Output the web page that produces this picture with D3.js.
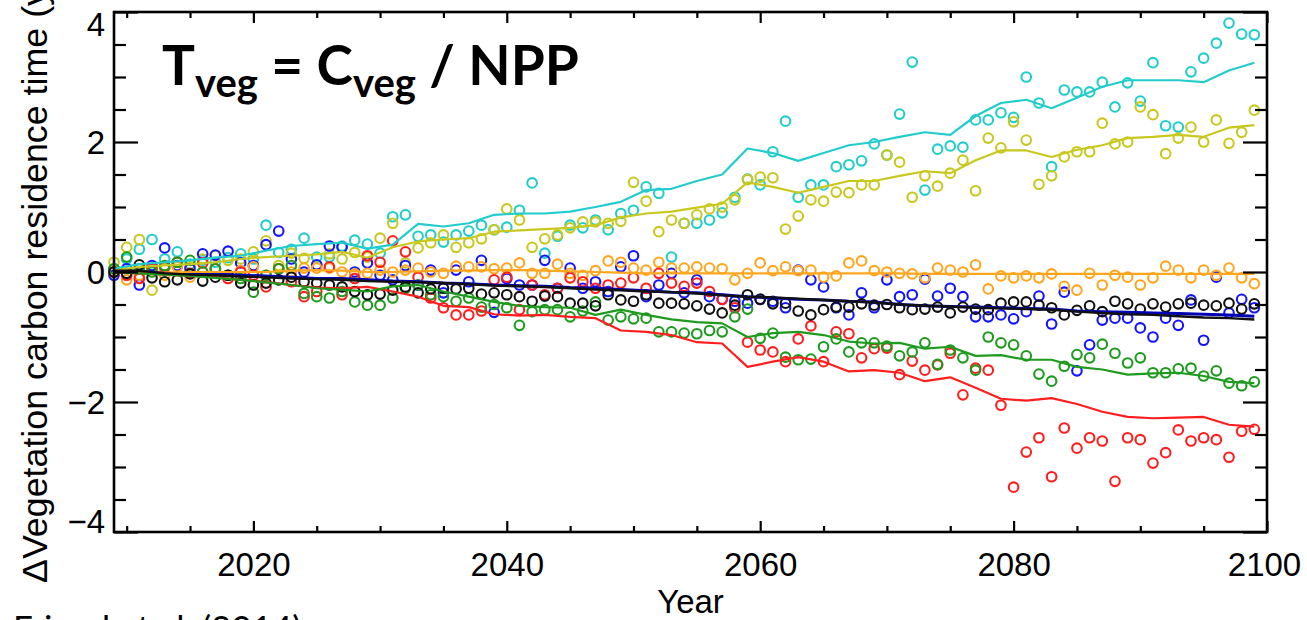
<!DOCTYPE html>
<html lang="en">
  <head>
    <meta charset="utf-8">
    <title>Vegetation carbon residence time</title>
    <script src="https://d3js.org/d3.v7.min.js"></script>
    <style>
      body { margin: 0; background: #fff; }
      .tick text { font-family: "Liberation Sans", Arial, sans-serif; font-size: 33px; fill: #000; }
    </style>
  </head>
  <body>
    <div id="chart"></div>
    <script>

// years of the annual circles and of the smoothed lines
var years = d3.range(2009, 2100);
var lineYears = d3.range(2009, 2100, 2);

// annual values (circles), 2009..2099
var cyanPts = [0.05,0.2,0.35,0.5,0.2,0.31,0.12,0.18,0.15,0.22,
  0.28,0.2,0.72,0.3,0.35,0.52,0.23,0.23,0.4,0.49,
  0.43,0.29,0.85,0.88,0.55,0.57,0.46,0.57,0.63,0.72,
  0.65,0.69,0.95,1.37,0.29,0.55,0.72,0.68,0.8,0.65,
  0.9,0.95,1.31,1.21,0.23,0.75,0.75,0.8,0.91,1.15,
  1.43,1.34,1.85,2.32,1.15,1.34,1.34,1.62,1.65,1.71,
  1.97,1.8,2.43,3.23,1.26,1.89,1.94,1.92,2.34,2.34,
  2.45,2.38,3.0,2.6,1.62,2.8,2.77,2.77,2.92,2.54,
  2.91,2.63,3.22,2.25,2.23,3.08,3.29,3.52,3.83,3.66,
  3.65];
var ygPts = [0.15,0.38,0.5,-0.28,0.05,0.15,0.08,0.2,0.25,0.18,
  0.2,0.31,0.48,0.1,0.29,0.21,0.1,0.28,0.2,0.3,
  0.23,0.52,0.75,0.14,0.37,0.45,0.57,0.38,0.45,0.51,
  0.65,0.97,0.8,0.38,0.51,0.57,0.68,0.77,0.77,0.75,
  0.78,1.38,1.09,0.62,0.8,0.75,0.88,0.97,1.0,1.11,
  1.42,1.46,1.45,0.66,0.86,1.11,1.09,1.23,1.22,1.34,
  1.34,1.8,1.69,1.15,1.48,1.32,1.52,1.72,1.25,2.06,
  1.91,2.31,2.03,1.35,1.48,1.77,1.85,1.85,2.29,1.97,
  2.0,2.54,2.42,1.82,2.06,2.23,2.0,2.34,1.98,2.15,
  2.49];
var orangePts = [0.0,-0.12,-0.05,0.05,-0.05,0.08,-0.08,0.0,0.05,-0.05,
  0.02,0.08,-0.05,0.05,0.0,0.06,0.06,0.06,0.0,-0.03,
  -0.02,0.03,0.0,0.03,0.06,0.0,-0.02,0.09,0.08,0.08,
  0.05,0.06,0.14,-0.02,-0.02,0.12,-0.02,-0.05,0.02,0.17,
  0.15,0.06,0.03,0.15,0.06,0.06,0.08,0.06,0.05,-0.12,
  -0.02,0.14,0.02,0.08,0.02,0.03,-0.08,-0.06,0.14,0.17,
  0.02,0.0,-0.02,-0.03,-0.09,0.06,0.03,0.0,0.11,-0.26,
  -0.06,-0.09,-0.06,-0.09,-0.03,-0.22,-0.28,-0.02,-0.2,-0.05,
  -0.08,-0.2,-0.09,0.09,0.03,-0.09,0.03,-0.05,0.06,-0.09,
  -0.18];
var bluePts = [-0.05,0.05,-0.2,0.1,0.37,0.1,0.05,0.28,0.26,0.32,
  0.14,0.1,0.42,0.63,0.2,0.0,0.11,0.4,0.38,0.0,
  0.14,-0.05,-0.12,0.1,-0.2,0.03,-0.32,0.03,-0.15,0.18,
  -0.62,-0.1,-0.2,-0.2,0.18,-0.25,0.06,-0.25,-0.15,-0.3,
  0.08,0.25,-0.38,-0.2,-0.02,-0.32,-0.12,-0.38,-0.42,-0.45,
  -0.48,-0.42,-0.45,-0.55,0.03,-0.12,-0.23,-0.55,-0.66,-0.32,
  -0.55,-0.12,-0.38,-0.35,-0.11,-0.37,-0.25,-0.38,-0.69,-0.69,
  -0.66,-0.72,-0.61,-0.37,-0.8,-0.31,-1.52,-1.12,-0.74,-0.71,
  -0.71,-0.86,-1.0,-0.71,-0.82,-0.43,-1.05,-0.08,-0.63,-0.42,
  -0.55];
var blackPts = [0.0,-0.02,0.11,-0.09,-0.15,-0.12,-0.03,-0.14,-0.08,-0.05,
  -0.17,-0.2,-0.17,-0.12,-0.08,-0.15,-0.17,-0.2,-0.23,-0.3,
  -0.35,-0.34,-0.28,-0.23,-0.32,-0.26,-0.25,-0.26,-0.25,-0.34,
  -0.32,-0.35,-0.38,-0.45,-0.37,-0.38,-0.48,-0.48,-0.52,-0.35,
  -0.43,-0.45,-0.35,-0.48,-0.48,-0.49,-0.52,-0.57,-0.63,-0.51,
  -0.35,-0.42,-0.49,-0.48,-0.6,-0.66,-0.58,-0.54,-0.54,-0.49,
  -0.51,-0.5,-0.55,-0.58,-0.57,-0.54,-0.63,-0.54,-0.57,-0.58,
  -0.48,-0.46,-0.46,-0.51,-0.55,-0.66,-0.59,-0.52,-0.61,-0.45,
  -0.49,-0.57,-0.49,-0.54,-0.49,-0.48,-0.51,-0.52,-0.48,-0.57,
  -0.49];
var greenPts = [0.05,0.23,0.05,0.0,0.1,0.15,0.18,0.0,0.05,-0.05,
  -0.1,-0.31,-0.05,0.05,0.1,-0.33,-0.38,-0.4,-0.3,-0.46,
  -0.51,-0.51,-0.4,-0.25,-0.2,-0.35,-0.38,-0.45,-0.4,-0.54,
  -0.5,-0.55,-0.82,-0.61,-0.58,-0.58,-0.69,-0.6,-0.46,-0.74,
  -0.69,-0.72,-0.71,-0.92,-0.92,-0.94,-0.95,-0.9,-0.92,-0.69,
  -0.57,-1.02,-0.94,-1.31,-1.35,-1.34,-1.15,-1.03,-1.23,-1.09,
  -1.09,-1.14,-1.29,-1.23,-1.09,-1.42,-1.2,-1.32,-1.51,-1.0,
  -1.09,-1.12,-1.29,-1.57,-1.68,-1.45,-1.27,-1.32,-1.11,-1.25,
  -1.4,-1.32,-1.55,-1.55,-1.49,-1.48,-1.6,-1.52,-1.71,-1.75,
  -1.69];
var redPts = [0.0,-0.05,-0.1,0.05,0.08,0.15,-0.02,0.14,0.05,-0.1,
  0.0,-0.05,-0.23,0.05,-0.15,-0.38,-0.3,0.08,-0.35,-0.1,
  0.25,0.15,0.48,0.31,-0.08,-0.4,-0.55,-0.66,-0.66,-0.6,
  -0.12,-0.08,-0.58,-0.2,-0.35,-0.25,-0.09,-0.15,-0.25,-0.2,
  -0.17,-0.09,-0.25,-0.02,-0.17,-0.22,-0.17,-0.3,-0.42,-0.55,
  -1.08,-1.2,-1.23,-1.38,-1.03,-0.83,-1.38,-0.92,-0.95,-1.32,
  -1.18,-1.17,-1.58,-1.37,-1.51,-1.43,-1.25,-1.89,-1.48,-1.51,
  -2.05,-3.31,-2.77,-2.55,-3.15,-2.4,-2.71,-2.55,-2.6,-3.22,
  -2.55,-2.58,-2.94,-2.78,-2.43,-2.6,-2.55,-2.58,-2.85,-2.45,
  -2.42];

// smoothed lines, every second year 2009..2099
var cyanLine = [0.05,0.12,0.15,0.18,0.22,0.25,0.33,0.4,0.43,0.45,
  0.36,0.42,0.74,0.7,0.75,0.88,0.9,0.9,0.93,1.0,
  1.08,1.26,1.28,1.4,1.5,1.9,1.83,1.71,1.83,1.95,
  2.0,2.08,2.15,2.11,2.4,2.6,2.65,2.52,2.68,2.85,
  2.95,2.95,2.95,2.92,3.1,3.22];
var ygLine = [0.02,0.08,0.1,0.12,0.15,0.2,0.23,0.25,0.27,0.31,
  0.22,0.38,0.47,0.5,0.52,0.62,0.64,0.66,0.68,0.72,
  0.84,0.9,0.93,0.99,1.05,1.38,1.31,1.22,1.31,1.4,
  1.4,1.48,1.55,1.52,1.72,1.87,1.87,1.77,1.88,1.95,
  2.06,2.08,2.11,2.08,2.22,2.26];
var orangeLine = [0.0,-0.02,-0.01,0.0,0.0,0.0,0.0,0.02,0.03,0.02,
  0.0,0.0,0.01,0.02,0.02,0.03,0.03,0.02,0.01,0.0,
  -0.01,-0.02,-0.02,-0.02,-0.02,-0.02,-0.02,-0.02,-0.02,-0.02,
  -0.02,-0.02,-0.03,-0.03,-0.03,-0.03,-0.03,-0.03,-0.03,-0.03,
  -0.03,-0.03,-0.03,-0.03,-0.03,-0.03];
var blueLine = [0.0,0.0,-0.02,-0.03,-0.03,-0.05,-0.06,-0.08,-0.1,-0.1,
  -0.12,-0.14,-0.15,-0.17,-0.18,-0.2,-0.21,-0.22,-0.24,-0.25,
  -0.27,-0.29,-0.31,-0.32,-0.35,-0.38,-0.4,-0.42,-0.43,-0.45,
  -0.46,-0.5,-0.52,-0.53,-0.54,-0.55,-0.56,-0.57,-0.6,-0.61,
  -0.62,-0.63,-0.64,-0.65,-0.66,-0.68];
var blackLine = [0.02,0.02,-0.02,-0.04,-0.05,-0.07,-0.08,-0.1,-0.11,-0.12,
  -0.14,-0.15,-0.16,-0.17,-0.19,-0.21,-0.22,-0.23,-0.25,-0.27,
  -0.28,-0.3,-0.31,-0.33,-0.36,-0.38,-0.39,-0.41,-0.43,-0.45,
  -0.47,-0.5,-0.52,-0.53,-0.55,-0.56,-0.57,-0.58,-0.61,-0.63,
  -0.65,-0.66,-0.68,-0.7,-0.71,-0.73];
var greenLine = [0.0,-0.02,-0.04,-0.06,-0.09,-0.12,-0.16,-0.2,-0.25,-0.27,
  -0.3,-0.22,-0.2,-0.3,-0.38,-0.46,-0.52,-0.54,-0.55,-0.66,
  -0.58,-0.66,-0.73,-0.77,-0.79,-1.0,-0.94,-0.92,-0.97,-1.07,
  -1.1,-1.09,-1.18,-1.15,-1.29,-1.28,-1.35,-1.35,-1.46,-1.5,
  -1.58,-1.56,-1.55,-1.6,-1.69,-1.71];
var redLine = [0.0,-0.02,-0.04,-0.06,-0.08,-0.12,-0.15,-0.2,-0.24,-0.25,
  -0.23,-0.3,-0.38,-0.52,-0.54,-0.65,-0.67,-0.66,-0.69,-0.71,
  -0.9,-0.92,-0.97,-1.08,-1.1,-1.46,-1.38,-1.31,-1.38,-1.53,
  -1.51,-1.55,-1.68,-1.62,-1.78,-1.95,-1.98,-1.94,-2.03,-2.15,
  -2.23,-2.25,-2.24,-2.23,-2.35,-2.38];

// tick labels
var xMajor = [2020, 2040, 2060, 2080, 2100];
var xMinor = [2010, 2015, 2025, 2030, 2035, 2045, 2050, 2055, 2065, 2070, 2075, 2085, 2090, 2095];
var yMajor = [-4, -2, 0, 2, 4];
var yMinor = [-3.5, -3, -2.5, -1.5, -1, -0.5, 0.5, 1, 1.5, 2.5, 3, 3.5];

var series = [
  {pts: cyanPts,   line: cyanLine,   ptColor: "#22cccc", lineColor: "#22cccc", lw: 2.2},
  {pts: ygPts,     line: ygLine,     ptColor: "#c8c81e", lineColor: "#c8c81e", lw: 2.2},
  {pts: bluePts,   line: blueLine,   ptColor: "#1414ff", lineColor: "#0000b4", lw: 3},
  {pts: orangePts, line: orangeLine, ptColor: "#ffa51e", lineColor: "#ffa51e", lw: 2.2},
  {pts: redPts,    line: redLine,    ptColor: "#ff1e1e", lineColor: "#ff1e1e", lw: 2.2},
  {pts: greenPts,  line: greenLine,  ptColor: "#1e9b1e", lineColor: "#1e9b1e", lw: 2.2},
  {pts: blackPts,  line: blackLine,  ptColor: "#111111", lineColor: "#111111", lw: 2.4}
];

var w = 1307;
var h = 620;
var plot = {x0: 114, x1: 1267, y0: 12, y1: 532};

var svg = d3.select("#chart")
  .append("svg")
    .attr("width", w)
    .attr("height", h);

var xScale = d3.scaleLinear().domain([2009, 2100]).range([plot.x0, plot.x1]);
var yScale = d3.scaleLinear().domain([-4, 4]).range([plot.y1, plot.y0]);

// circles
series.forEach(function(s) {
  svg.append("g")
    .selectAll("circle")
    .data(s.pts)
    .enter()
    .append("circle")
      .attr("cx", (d, i) => xScale(years[i]))
      .attr("cy", d => yScale(d))
      .attr("r", 4.8)
      .attr("fill", "none")
      .attr("stroke", s.ptColor)
      .attr("stroke-width", 2.1);
});

// smoothed lines
var line = d3.line()
  .x((d, i) => xScale(lineYears[i]))
  .y(d => yScale(d));

series.forEach(function(s) {
  svg.append("path")
    .datum(s.line)
    .attr("d", line)
    .attr("fill", "none")
    .attr("stroke", s.lineColor)
    .attr("stroke-width", s.lw)
    .attr("stroke-linejoin", "round");
});

// axes, ticks point inward
function drawAxis(axis, tx, ty) {
  var g = svg.append("g")
    .attr("transform", `translate(${tx}, ${ty})`)
    .call(axis);
  g.select(".domain").remove();
  g.selectAll(".tick line").attr("stroke", "#000").attr("stroke-width", 2.2);
  return g;
}

var xAxis = drawAxis(d3.axisBottom(xScale).tickValues(xMajor).tickSize(-11).tickSizeOuter(0)
  .tickPadding(21).tickFormat(d3.format("d")), 0, plot.y1);
drawAxis(d3.axisBottom(xScale).tickValues(xMinor).tickSize(-6).tickFormat(""), 0, plot.y1);
drawAxis(d3.axisTop(xScale).tickValues(xMajor).tickSize(-11).tickFormat(""), 0, plot.y0);
drawAxis(d3.axisTop(xScale).tickValues(xMinor).tickSize(-6).tickFormat(""), 0, plot.y0);

var yAxis = drawAxis(d3.axisLeft(yScale).tickValues(yMajor).tickSize(-24).tickSizeOuter(0)
  .tickPadding(9).tickFormat(d3.format("d")), plot.x0, 0);
drawAxis(d3.axisLeft(yScale).tickValues(yMinor).tickSize(-12).tickFormat(""), plot.x0, 0);
drawAxis(d3.axisRight(yScale).tickValues(yMajor).tickSize(-24).tickFormat(""), plot.x1, 0);
drawAxis(d3.axisRight(yScale).tickValues(yMinor).tickSize(-12).tickFormat(""), plot.x1, 0);

// the end labels sit inside the frame
yAxis.selectAll(".tick text")
  .attr("dy", d => d == 4 ? "0.72em" : (d == -4 ? "0em" : "0.35em"));
xAxis.selectAll(".tick text").attr("dx", d => d == 2100 ? "-3px" : 0);

svg.append("rect")
  .attr("x", plot.x0).attr("y", plot.y0)
  .attr("width", plot.x1 - plot.x0).attr("height", plot.y1 - plot.y0)
  .attr("fill", "none")
  .attr("stroke", "#000")
  .attr("stroke-width", 2.6);

// axis titles
svg.append("text")
  .attr("x", (plot.x0 + plot.x1) / 2)
  .attr("y", 613)
  .attr("text-anchor", "middle")
  .style("font-family", "'Liberation Sans', Arial, sans-serif")
  .style("font-size", "33px")
  .text("Year");

svg.append("text")
  .attr("transform", "translate(47, 583) rotate(-90)")
  .attr("text-anchor", "start")
  .style("font-family", "'Liberation Sans', Arial, sans-serif")
  .style("font-size", "35.8px")
  .text("\u0394Vegetation carbon residence time (yr)");

// formula inside the plot
var title = svg.append("text")
  .attr("x", 162)
  .attr("y", 85)
  .style("font-family", "Lato, 'Open Sans', sans-serif")
  .style("font-weight", "bold")
  .style("font-size", "55px");
title.append("tspan").text("T");
title.append("tspan").attr("dy", 12).style("font-size", "40px").text("veg");
title.append("tspan").attr("dy", -12).text(" = C");
title.append("tspan").attr("dy", 12).style("font-size", "40px").text("veg");
title.append("tspan").attr("dy", -12).text(" / NPP");

// source note, cut by the bottom edge
svg.append("text")
  .attr("x", 13)
  .attr("y", 641)
  .style("font-family", "Lato, sans-serif")
  .style("font-size", "35px")
  .text("Friend et al. (2014)");

    </script>
  </body>
</html>
